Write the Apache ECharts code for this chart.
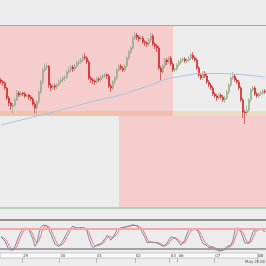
<!DOCTYPE html>
<html><head><meta charset="utf-8">
<script src="https://cdn.jsdelivr.net/npm/echarts@6/dist/echarts.min.js"></script>
<style>html,body{margin:0;padding:0;background:#ececec}#c{width:266px;height:266px}</style>
</head><body><div id="c"></div>
<script>
const openP = [1.2000,1.1998,1.1997,1.1992,1.1982,1.1977,1.1974,1.1975,1.1980,1.1987,
1.1985,1.1987,1.1986,1.1984,1.1985,1.1983,1.1981,1.1976,1.1972,1.1978,
1.1988,1.1998,1.2010,1.2013,1.2014,1.1995,1.1992,1.1994,1.1993,1.1995,
1.1998,1.2000,1.2002,1.2003,1.2008,1.2010,1.2013,1.2011,1.2014,1.2017,
1.2018,1.2020,1.2023,1.2022,1.2018,1.2002,1.2000,1.1999,1.1998,1.2001,
1.2000,1.2003,1.2004,1.2005,1.2004,1.1994,1.1992,1.1998,1.2002,1.2010,
1.2014,1.2012,1.2010,1.2014,1.2022,1.2028,1.2032,1.2042,1.2045,1.2043,
1.2041,1.2042,1.2038,1.2037,1.2036,1.2040,1.2044,1.2036,1.2034,1.2032,
1.2012,1.2008,1.2014,1.2020,1.2018,1.2022,1.2016,1.2010,1.2011,1.2015,
1.2018,1.2020,1.2021,1.2019,1.2020,1.2022,1.2025,1.2022,1.2020,1.2012,
1.2005,1.2002,1.2007,1.2004,1.1998,1.1995,1.1992,1.1986,1.1984,1.1982,
1.1985,1.1983,1.1980,1.1982,1.1988,1.1995,1.2002,1.2004,1.2000,1.1998,
1.1992,1.1980,1.1968,1.1967,1.1970,1.1980,1.1990,1.1992,1.1986,1.1984,
1.1986,1.1987,1.1989];
const closeP = [1.1998,1.1997,1.1992,1.1982,1.1977,1.1974,1.1975,1.1980,1.1987,1.1985,
1.1987,1.1986,1.1984,1.1985,1.1983,1.1981,1.1976,1.1972,1.1978,1.1988,
1.1998,1.2010,1.2013,1.2014,1.1995,1.1992,1.1994,1.1993,1.1995,1.1998,
1.2000,1.2002,1.2003,1.2008,1.2010,1.2013,1.2011,1.2014,1.2017,1.2018,
1.2020,1.2023,1.2022,1.2018,1.2002,1.2000,1.1999,1.1998,1.2001,1.2000,
1.2003,1.2004,1.2005,1.2004,1.1994,1.1992,1.1998,1.2002,1.2010,1.2014,
1.2012,1.2010,1.2014,1.2022,1.2028,1.2032,1.2042,1.2045,1.2043,1.2041,
1.2042,1.2038,1.2037,1.2036,1.2040,1.2044,1.2036,1.2034,1.2032,1.2012,
1.2008,1.2014,1.2020,1.2018,1.2022,1.2016,1.2010,1.2011,1.2015,1.2018,
1.2020,1.2021,1.2019,1.2020,1.2022,1.2025,1.2022,1.2020,1.2012,1.2005,
1.2002,1.2007,1.2004,1.1998,1.1995,1.1992,1.1986,1.1984,1.1982,1.1985,
1.1983,1.1980,1.1982,1.1988,1.1995,1.2002,1.2004,1.2000,1.1998,1.1992,
1.1980,1.1968,1.1967,1.1970,1.1980,1.1990,1.1992,1.1986,1.1984,1.1986,
1.1987,1.1989,1.1988];
const lowP = [1.1996,1.1994,1.1990,1.1980,1.1974,1.1970,1.1967,1.1973,1.1979,1.1983,
1.1983,1.1984,1.1982,1.1982,1.1980,1.1979,1.1974,1.1967,1.1965,1.1976,
1.1986,1.1996,1.2008,1.2010,1.1992,1.1989,1.1990,1.1990,1.1991,1.1994,
1.1996,1.1998,1.1999,1.2001,1.2006,1.2008,1.2008,1.2009,1.2012,1.2015,
1.2016,1.2018,1.2020,1.2016,1.2000,1.1997,1.1996,1.1995,1.1996,1.1998,
1.1998,1.2001,1.2002,1.2001,1.1992,1.1988,1.1990,1.1996,1.2000,1.2008,
1.2010,1.2008,1.2008,1.2012,1.2020,1.2026,1.2030,1.2040,1.2040,1.2038,
1.2039,1.2036,1.2034,1.2033,1.2034,1.2038,1.2034,1.2031,1.2028,1.2010,
1.2000,1.2006,1.2012,1.2015,1.2016,1.2014,1.2008,1.2008,1.2009,1.2013,
1.2016,1.2018,1.2017,1.2017,1.2018,1.2020,1.2020,1.2018,1.2010,1.2003,
1.2000,1.2000,1.2002,1.1996,1.1993,1.1990,1.1984,1.1982,1.1979,1.1980,
1.1981,1.1978,1.1977,1.1980,1.1986,1.1993,1.2000,1.1998,1.1996,1.1990,
1.1978,1.1962,1.1956,1.1964,1.1968,1.1978,1.1988,1.1984,1.1982,1.1982,
1.1984,1.1985,1.1986];
const highP = [1.2002,1.2000,1.1999,1.1993,1.1984,1.1978,1.1977,1.1982,1.1990,1.1989,
1.1989,1.1988,1.1988,1.1987,1.1986,1.1985,1.1983,1.1978,1.1980,1.1990,
1.2000,1.2012,1.2016,1.2017,1.2015,1.1997,1.1996,1.1996,1.1997,1.2000,
1.2002,1.2004,1.2005,1.2010,1.2013,1.2015,1.2015,1.2016,1.2019,1.2021,
1.2022,1.2025,1.2027,1.2024,1.2020,1.2004,1.2002,1.2001,1.2003,1.2003,
1.2005,1.2006,1.2007,1.2007,1.2006,1.1996,1.2000,1.2004,1.2012,1.2016,
1.2016,1.2014,1.2016,1.2024,1.2030,1.2034,1.2044,1.2048,1.2047,1.2045,
1.2044,1.2044,1.2040,1.2039,1.2042,1.2047,1.2046,1.2038,1.2036,1.2034,
1.2014,1.2016,1.2022,1.2022,1.2024,1.2024,1.2018,1.2013,1.2017,1.2020,
1.2022,1.2023,1.2023,1.2022,1.2024,1.2027,1.2028,1.2024,1.2022,1.2014,
1.2007,1.2009,1.2009,1.2006,1.2000,1.1997,1.1994,1.1988,1.1986,1.1987,
1.1987,1.1985,1.1984,1.1990,1.1997,1.2004,1.2008,1.2006,1.2002,1.2000,
1.1994,1.1982,1.1970,1.1974,1.1982,1.1992,1.1994,1.1994,1.1988,1.1988,
1.1989,1.1991,1.1991];
// slow moving average read at a few candles: [candle index, price]
const maPoints = [[0,1.1955],[10,1.1960],[18,1.1964],[30,1.1970],[40,1.19755],[50,1.19805],
[60,1.1985],[66,1.1989],[75,1.1995],[82,1.20005],[92,1.20045],[101,1.20065],[110,1.20065],
[116,1.2006],[125,1.20045],[132,1.2003]];
const stochMain = [54,52,42,28,16,12,14,26,42,58,
70,80,83,82,75,62,47,26,36,66,
84,91,92,89,76,63,47,33,27,25,
30,43,56,67,76,82,88,84,79,78,
84,85,81,72,50,32,22,26,30,32,
34,40,49,60,62,45,49,64,77,82,
83,84,85,87,88,91,92,90,88,84,
76,64,53,37,31,39,40,38,36,33,
30,26,23,35,47,55,53,51,47,38,
29,36,47,64,77,81,79,78,76,66,
48,35,32,28,21,22,25,18,14,11,
12,15,21,25,23,30,45,75,83,82,
71,52,36,30,35,52,71,77,78,78,
79,81,70];
const stochSignal = [56,54,49,41,29,19,14,17,27,42,
57,69,78,82,80,73,61,45,36,43,
62,80,89,91,86,76,62,48,36,28,
27,33,43,55,66,75,82,85,84,80,
80,82,83,79,68,51,35,27,26,29,
32,35,41,50,57,56,52,53,63,74,
81,83,84,85,87,89,90,91,90,87,
83,75,64,51,40,36,37,39,38,36,
33,30,26,28,35,46,52,53,50,45,
38,34,37,49,63,74,79,79,78,73,
63,50,38,32,27,24,23,22,19,14,
12,13,16,20,23,26,33,50,68,80,
79,68,53,39,34,39,53,67,75,78,
78,79,77];
const tickIdx = [11,30,49,69,87,91,110,132];
const tickText = ["29","30","01","02","03","06","07","08"];
const zoneTop = 1.2055, zoneBottom = 1.1969, bandBottom = 1.1964, lowerLine = 1.1872;
const stochHigh = 80, stochLow = 20;

const categories = openP.map((_, i) => 'c' + i);
const candleData = openP.map((o, i) => [o, closeP[i], lowP[i], highP[i]]);
const showTick = (i) => tickIdx.indexOf(i) >= 0;

const chart = echarts.init(document.getElementById('c'), null, {renderer: 'canvas'});
chart.setOption({
  backgroundColor: '#ececec',
  animation: false,
  title: {text: 'May 2018', left: 245, top: 260, padding: 0,
    textStyle: {fontSize: 4, color: '#555', fontWeight: 'normal', fontFamily: 'DejaVu Sans'}},
  grid: [
    {left: 0, right: 0, top: 0, height: 209},
    {left: 0, right: 0, top: 220, height: 33},
    {left: 0, right: 0, top: 253, height: 5, show: true, backgroundColor: '#fbfbfb', borderColor: '#999', borderWidth: 0.5}
  ],
  xAxis: [
    {type: 'category', data: categories, gridIndex: 0, show: false},
    {type: 'category', data: categories, gridIndex: 1, position: 'top',
      axisLine: {show: true, lineStyle: {color: '#6f6f6f', width: 1.5}},
      axisTick: {show: false}, axisLabel: {show: false}, splitLine: {show: false}},
    {type: 'category', data: categories, gridIndex: 2, position: 'top',
      axisLine: {show: false},
      axisTick: {show: true, inside: true, length: 5, alignWithLabel: true, interval: showTick, lineStyle: {color: '#888', width: 0.5}},
      axisLabel: {show: true, inside: true, interval: showTick, fontSize: 4, color: '#444', align: 'left', verticalAlign: 'top', margin: 0.5,
        padding: [0, 0, 0, 1], fontFamily: 'DejaVu Sans',
        formatter: (v, i) => { const k = tickIdx.indexOf(i); return k >= 0 ? tickText[k] : ''; }},
      splitLine: {show: false}}
  ],
  yAxis: [
    {type: 'value', gridIndex: 0, min: 1.1871, max: 1.2080, show: false},
    {type: 'value', gridIndex: 1, min: 5.5, max: 106.5, show: false},
    {type: 'value', gridIndex: 2, show: false}
  ],
  series: [
    {type: 'candlestick', xAxisIndex: 0, yAxisIndex: 0, data: candleData, barWidth: '80%',
      itemStyle: {color: '#b4d48a', color0: '#e81a1a', borderColor: '#8f9c84', borderColor0: '#c42020', borderWidth: 0.6},
      markArea: {silent: true, data: [
        [{xAxis: -Infinity, yAxis: zoneTop, itemStyle: {color: '#f4cdcc'}}, {xAxis: 86, yAxis: zoneBottom}],
        [{xAxis: -Infinity, yAxis: zoneBottom, itemStyle: {color: '#f2c1ac'}}, {xAxis: 86, yAxis: bandBottom}],
        [{xAxis: 86, yAxis: zoneBottom, itemStyle: {color: '#efdcc5'}}, {xAxis: Infinity, yAxis: bandBottom}],
        [{xAxis: 59, yAxis: bandBottom, itemStyle: {color: '#f4cdcc'}}, {xAxis: Infinity, yAxis: lowerLine}]
      ]}
    },
    {type: 'line', xAxisIndex: 0, yAxisIndex: 0, data: maPoints, smooth: 0.4, showSymbol: false,
      lineStyle: {color: '#a9c5e2', width: 1}, z: 3,
      markLine: {silent: true, symbol: 'none', precision: 5, label: {show: false}, data: [
        {yAxis: zoneTop, lineStyle: {color: '#e88a8a', width: 1, type: 'solid'}},
        {yAxis: lowerLine, lineStyle: {color: '#9fcc9f', width: 1.5, type: 'solid'}}
      ]}},
    {type: 'line', xAxisIndex: 1, yAxisIndex: 1, data: stochSignal, showSymbol: false,
      lineStyle: {color: '#f07a7a', width: 1},
      markLine: {silent: true, symbol: 'none', label: {show: false}, data: [
        {yAxis: stochHigh, lineStyle: {color: '#f3a7a7', width: 2, type: 'solid'}},
        {yAxis: stochLow, lineStyle: {color: '#8a8a8a', width: 1.5, type: 'solid'}}
      ]}},
    {type: 'line', xAxisIndex: 1, yAxisIndex: 1, data: stochMain, showSymbol: false,
      lineStyle: {color: '#7c89a6', width: 1}}
  ]
});
</script></body></html>
